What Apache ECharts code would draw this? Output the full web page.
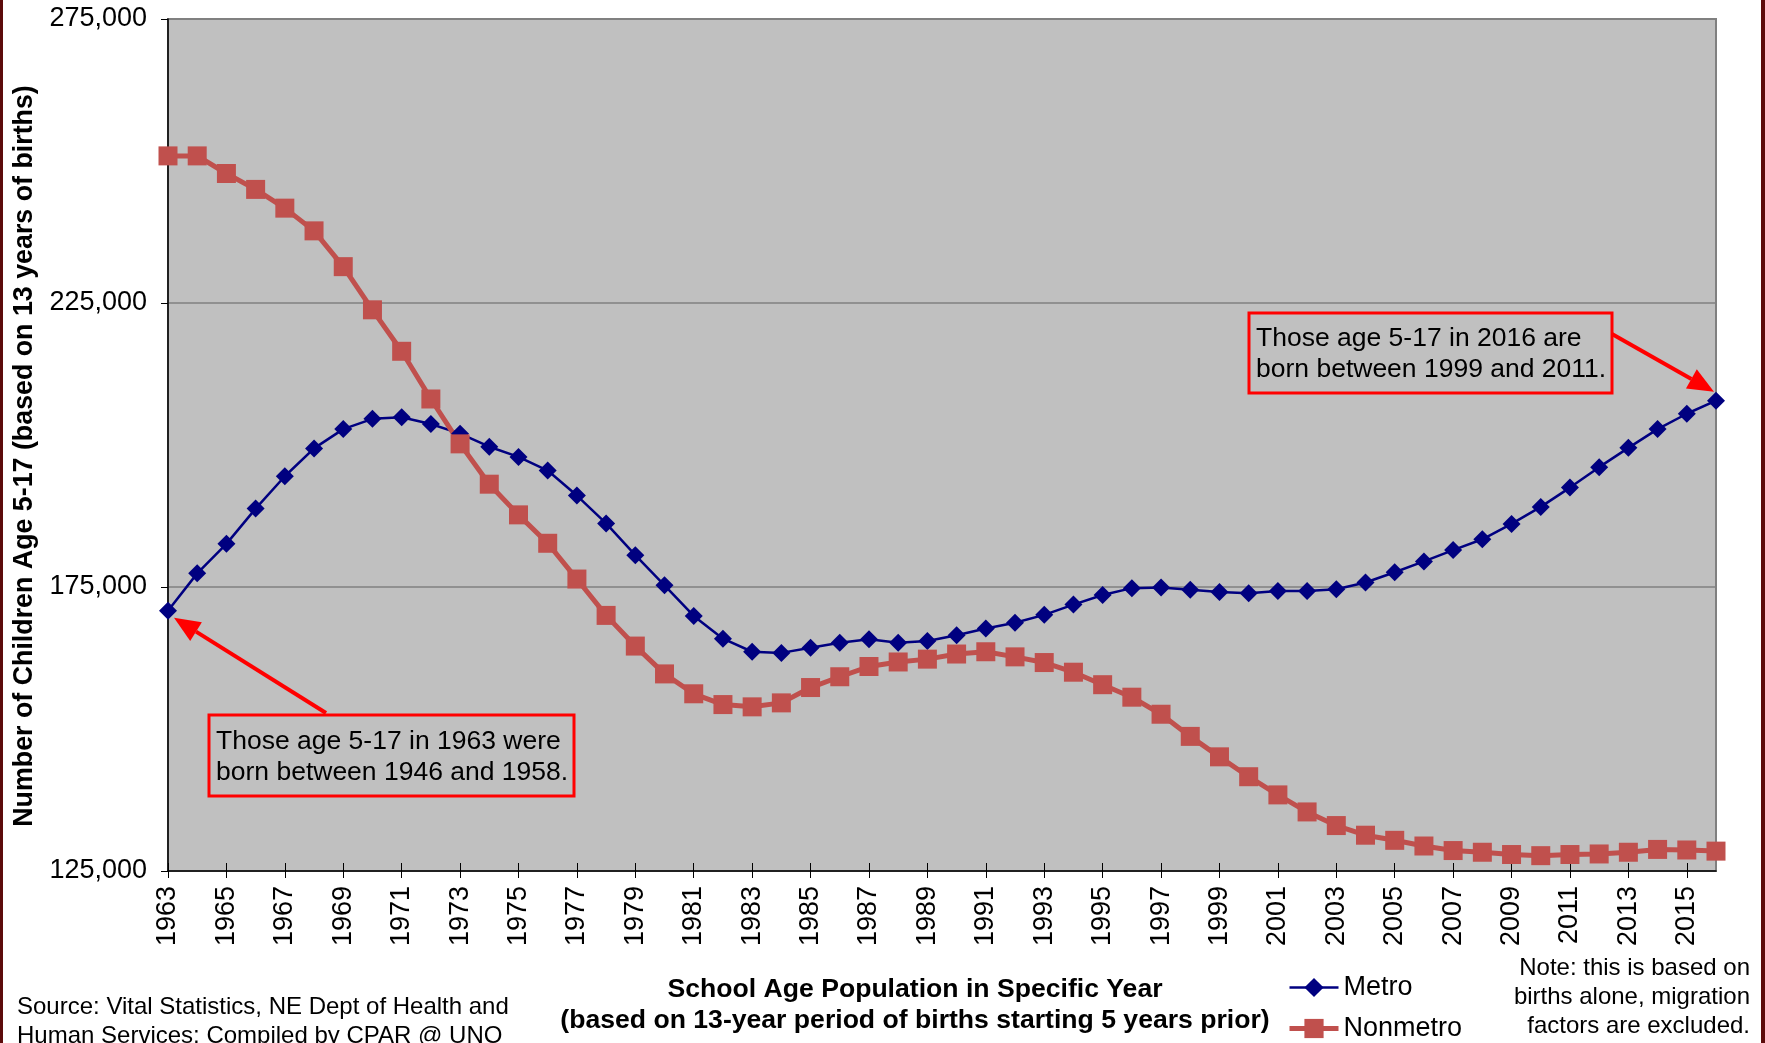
<!DOCTYPE html>
<html><head><meta charset="utf-8">
<script src="https://cdn.jsdelivr.net/npm/echarts@6/dist/echarts.min.js"></script>
<style>html,body{margin:0;padding:0;background:#fff}#c{width:1765px;height:1043px}</style>
</head><body><div id="c"></div>
<script>
const years = ['1963','1964','1965','1966','1967','1968','1969','1970','1971','1972','1973','1974','1975','1976','1977','1978','1979','1980','1981','1982','1983','1984','1985','1986','1987','1988','1989','1990','1991','1992','1993','1994','1995','1996','1997','1998','1999','2000','2001','2002','2003','2004','2005','2006','2007','2008','2009','2010','2011','2012','2013','2014','2015','2016'];
const metro = [170800,177400,182600,188800,194500,199400,202800,204600,204900,203700,202000,199700,197900,195500,191100,186200,180600,175300,169900,165900,163600,163400,164300,165200,165800,165200,165500,166500,167700,168700,170100,171900,173600,174800,174900,174500,174100,173900,174300,174300,174600,175800,177600,179500,181500,183400,186100,189100,192500,196100,199500,202800,205500,207800];
const nonmetro = [250900,250900,247800,245000,241700,237700,231400,223800,216500,208100,200200,193100,187700,182700,176400,170000,164600,159700,156200,154300,153900,154600,157300,159200,161000,161800,162300,163200,163600,162700,161700,160000,157800,155600,152600,148700,145100,141600,138400,135400,133000,131300,130400,129400,128600,128300,127900,127700,127900,128000,128300,128800,128700,128500];
const yMin = 125000, yMax = 275000, yStep = 50000;
const seriesNames = ['Metro','Nonmetro'];
const yTitle = 'Number of Children Age 5-17 (based on 13 years of births)';
const xTitle = ['School Age Population in Specific Year','(based on 13-year period of births starting 5 years prior)'];
const sourceText = ['Source: Vital Statistics, NE Dept of Health and','Human Services; Compiled by CPAR @ UNO'];
const noteText = ['Note: this is based on','births alone, migration','factors are excluded.'];
const note1 = ['Those age 5-17 in 1963 were','born between 1946 and 1958.'];
const note2 = ['Those age 5-17 in 2016 are','born between 1999 and 2011.'];

const FONT = 'Liberation Sans';
const chart = echarts.init(document.getElementById('c'));
chart.setOption({
  animation:false,
  backgroundColor:'#ffffff',
  textStyle:{fontFamily:FONT},
  grid:{left:168,right:49,top:19,bottom:172,show:true,backgroundColor:'#C0C0C0',borderColor:'#808080',borderWidth:2},
  legend:{orient:'vertical',left:1287,top:974,itemWidth:49,itemHeight:24,itemGap:14,padding:0,
    data:[{name:seriesNames[0],lineStyle:{width:2.5}},{name:seriesNames[1],lineStyle:{width:5}}],
    textStyle:{fontSize:27,color:'#000',fontFamily:FONT}},
  xAxis:[{type:'category',data:years,boundaryGap:false,
    axisLine:{lineStyle:{color:'#000',width:1.5}},
    axisTick:{interval:1,length:7,lineStyle:{color:'#000',width:1}},
    axisLabel:{interval:1,rotate:90,margin:15,fontSize:27,color:'#000',fontFamily:FONT},
    splitLine:{show:false}},
   {type:'category',data:years,boundaryGap:false,position:'bottom',
    axisLine:{show:false},axisTick:{inside:true,interval:1,length:8,lineStyle:{color:'#000',width:1}},
    axisLabel:{show:false},splitLine:{show:false}}],
  yAxis:{type:'value',min:yMin,max:yMax,interval:yStep,
    axisLine:{show:true,lineStyle:{color:'#000',width:1.5}},
    axisTick:{show:true,length:7,lineStyle:{color:'#000'}},
    axisLabel:{fontSize:27,color:'#000',margin:21,fontFamily:FONT,formatter:v=>v.toLocaleString('en-US')},
    splitLine:{lineStyle:{color:'#808080',width:1.5}}},
  series:[
    {name:seriesNames[0],type:'line',data:metro,symbol:'diamond',symbolSize:18,
     lineStyle:{color:'#000080',width:2.5},itemStyle:{color:'#000080'}},
    {name:seriesNames[1],type:'line',data:nonmetro,symbol:'rect',symbolSize:19,
     lineStyle:{color:'#C0504D',width:5},itemStyle:{color:'#C0504D'}}
  ]
});

function arrow(x1,y1,x2,y2){
  const a = Math.atan2(y2-y1,x2-x1), L=26, W=11;
  const bx = x2 - L*Math.cos(a), by = y2 - L*Math.sin(a);
  const px = -Math.sin(a)*W, py = Math.cos(a)*W;
  return [
    {type:'line',shape:{x1:x1,y1:y1,x2:bx,y2:by},style:{stroke:'#FF0000',lineWidth:4},z:10},
    {type:'polygon',shape:{points:[[x2,y2],[bx+px,by+py],[bx-px,by-py]]},style:{fill:'#FF0000'},z:10}
  ];
}
function txt(x,y,text,opt){
  return Object.assign({type:'text',x:x,y:y,z:10,style:Object.assign({text:text,fill:'#000',fontFamily:FONT},opt)});
}
const p1 = chart.convertToPixel({seriesIndex:0},[0,metro[0]]);
const pN = chart.convertToPixel({seriesIndex:0},[years.length-1,metro[metro.length-1]]);
const g = [];
g.push({type:'rect',shape:{x:0,y:0,width:3,height:1043},style:{fill:'#5c0a0a'}});
g.push({type:'rect',shape:{x:1761,y:0,width:4,height:1043},style:{fill:'#5c0a0a'}});
g.push({type:'text',x:25,y:456,rotation:Math.PI/2,style:{text:yTitle,fill:'#000',fontFamily:FONT,fontWeight:'bold',fontSize:26.8,align:'center',verticalAlign:'middle'}});
g.push(txt(915,990,xTitle[0],{fontWeight:'bold',fontSize:26.6,align:'center',verticalAlign:'middle'}));
g.push(txt(915,1021,xTitle[1],{fontWeight:'bold',fontSize:26.6,align:'center',verticalAlign:'middle'}));
g.push(txt(17,1007,sourceText[0],{fontSize:24,align:'left',verticalAlign:'middle'}));
g.push(txt(17,1036,sourceText[1],{fontSize:24,align:'left',verticalAlign:'middle'}));
noteText.forEach((t,i)=>g.push(txt(1750,968+i*29,t,{fontSize:24,align:'right',verticalAlign:'middle'})));
// annotation boxes
g.push({type:'rect',shape:{x:209,y:715,width:365,height:81},style:{fill:null,stroke:'#FF0000',lineWidth:3},z:10});
note1.forEach((t,i)=>g.push(txt(216,742+i*31,t,{fontSize:26.5,align:'left',verticalAlign:'middle'})));
g.push({type:'rect',shape:{x:1249,y:313,width:363,height:80},style:{fill:null,stroke:'#FF0000',lineWidth:3},z:10});
note2.forEach((t,i)=>g.push(txt(1256,339+i*31,t,{fontSize:26.5,align:'left',verticalAlign:'middle'})));
arrow(326,713,p1[0]+6,p1[1]+7).forEach(e=>g.push(e));
arrow(1612,334,pN[0]-2,pN[1]-9).forEach(e=>g.push(e));
chart.setOption({graphic:g});
</script></body></html>
